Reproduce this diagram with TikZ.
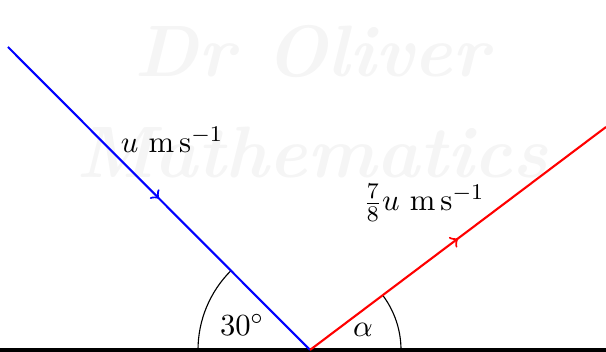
\documentclass[tikz,border=0pt]{standalone}
\usetikzlibrary{decorations.markings}
\begin{document}
\begin{tikzpicture}[x=0.357pt,y=0.357pt,
  midarrow/.style={postaction={decorate},decoration={markings,mark=at position 0.5 with {\arrow{>}}}},
  path/.style={line width=0.75pt},
  ground/.style={line width=1.45pt,black},
  anglearc/.style={line width=0.4pt,black},
  watermark/.style={text=black!4,font=\fontsize{26}{30}\selectfont\bfseries\itshape},
  lbl/.style={inner sep=0pt,font=\fontsize{10.8}{13}\selectfont}]
\useasboundingbox (0,0) rectangle (606,352);
\node[watermark] (w1) at (312,300) {Dr Oliver};
\node[watermark] (w2) at (312,200) {Mathematics};
\coordinate (O) at (310,2);
\coordinate (A) at (8,305);
\coordinate (B) at (606,225);
\coordinate (L) at (0,2);
\coordinate (R) at (606,2);
\draw[anglearc] (O) ++(180:112) arc (180:135:112);
\draw[anglearc] (O) ++(0:91) arc (0:36.87:91);
\draw[ground] (L) -- (R);
\draw[path,blue,midarrow] (A) -- (O);
\draw[path,red,midarrow] (O) -- (B);
\node[lbl] (lu) at (172,212) {$u\ \mathrm{m\,s^{-1}}$};
\node[lbl] (lv) at (424,149) {$\frac{7}{8}u\ \mathrm{m\,s^{-1}}$};
\node[lbl] (l30) at (242,27) {$30^\circ$};
\node[lbl] (la) at (363,22) {$\alpha$};
\end{tikzpicture}
\end{document}
